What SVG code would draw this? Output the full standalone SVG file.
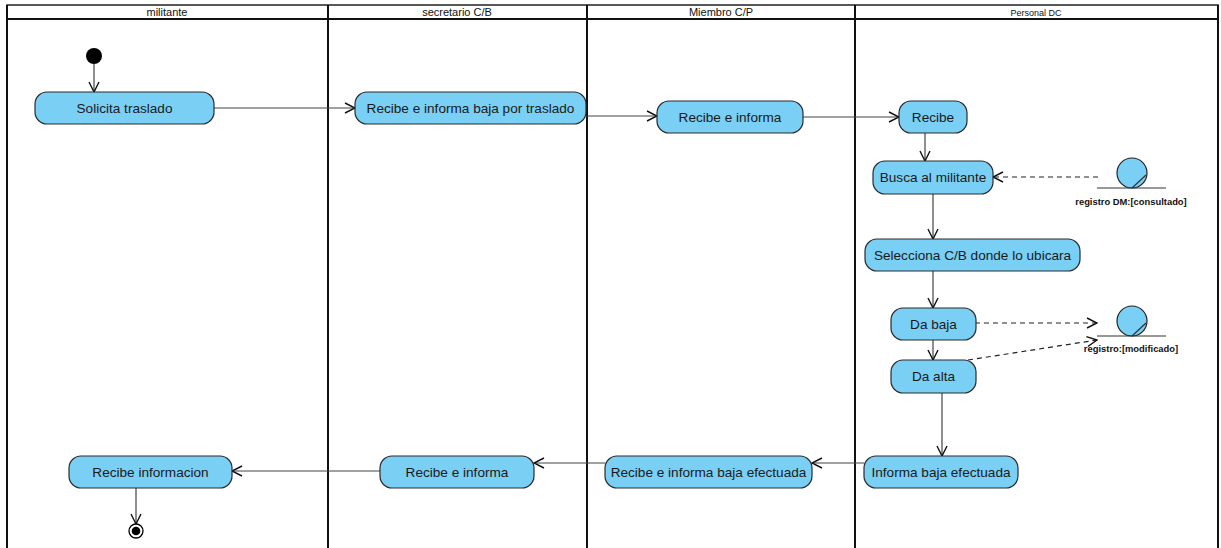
<svg xmlns="http://www.w3.org/2000/svg" width="1221" height="548" viewBox="0 0 1221 548">
  <style>
    .lane { fill: none; stroke: #111; stroke-width: 2; }
    .hdr { font-family: "Liberation Sans", Arial, sans-serif; font-size: 11px; fill: #111; text-anchor: middle; }
    .act rect { fill: #7acff5; stroke: #2a2a2a; stroke-width: 1.2; }
    .act text { font-family: "Liberation Sans", Arial, sans-serif; font-size: 13.6px; fill: #1a1a1a; text-anchor: middle; }
    .obj circle { fill: #7acff5; stroke: #222; stroke-width: 1.2; }
    .obj line { stroke: #333; stroke-width: 1.2; }
    .obj text { font-family: "Liberation Sans", Arial, sans-serif; font-size: 9.4px; font-weight: bold; fill: #111; text-anchor: middle; }
    .flow { fill: none; stroke: #444; stroke-width: 1.2; }
    .dep { fill: none; stroke: #222; stroke-width: 1.2; stroke-dasharray: 5 4; }
  </style>
  <defs>
    <marker id="open" viewBox="0 0 12 12" refX="11" refY="6" markerWidth="12" markerHeight="12" markerUnits="userSpaceOnUse" orient="auto">
      <path d="M1,1 L11,6 L1,11" fill="none" stroke="#111" stroke-width="1.4"/>
    </marker>
  </defs>

  <rect width="1221" height="548" fill="#fff"/>

  <!-- swimlanes -->
  <g id="lanes">
    <rect x="7" y="5" width="1211" height="14" fill="#fff" stroke="#222" stroke-width="1.5"/>
    <line x1="7" y1="19" x2="1218" y2="19" stroke="#111" stroke-width="2"/>
    <line x1="7" y1="5" x2="7" y2="548" class="lane"/>
    <line x1="328" y1="5" x2="328" y2="548" class="lane"/>
    <line x1="587" y1="5" x2="587" y2="548" class="lane"/>
    <line x1="855" y1="5" x2="855" y2="548" class="lane"/>
    <line x1="1218" y1="5" x2="1218" y2="548" class="lane"/>
    <text x="167" y="16" class="hdr">militante</text>
    <text x="457" y="16" class="hdr">secretario C/B</text>
    <text x="721" y="16" class="hdr">Miembro C/P</text>
    <text x="1036" y="15.5" class="hdr" style="font-size:9px">Personal DC</text>
  </g>

  <!-- connectors -->
  <g id="connectors">
    <line x1="94" y1="63" x2="94" y2="92" class="flow" marker-end="url(#open)"/>
    <line x1="214" y1="108" x2="355" y2="108" class="flow" marker-end="url(#open)"/>
    <line x1="586" y1="116" x2="657" y2="116" class="flow" marker-end="url(#open)"/>
    <line x1="803" y1="117" x2="899" y2="117" class="flow" marker-end="url(#open)"/>
    <line x1="925" y1="133" x2="925" y2="161" class="flow" marker-end="url(#open)"/>
    <line x1="933" y1="194" x2="933" y2="239" class="flow" marker-end="url(#open)"/>
    <line x1="933" y1="271" x2="933" y2="308" class="flow" marker-end="url(#open)"/>
    <line x1="933" y1="340" x2="933" y2="360" class="flow" marker-end="url(#open)"/>
    <line x1="942" y1="393" x2="942" y2="456" class="flow" marker-end="url(#open)"/>
    <line x1="864" y1="463" x2="812" y2="463" class="flow" marker-end="url(#open)"/>
    <line x1="605" y1="463" x2="534" y2="463" class="flow" marker-end="url(#open)"/>
    <line x1="380" y1="471" x2="232" y2="471" class="flow" marker-end="url(#open)"/>
    <line x1="136" y1="488" x2="136" y2="524" class="flow" marker-end="url(#open)"/>
    <line x1="1098" y1="177" x2="993" y2="177" class="dep" marker-end="url(#open)"/>
    <line x1="975" y1="323" x2="1097" y2="323" class="dep" marker-end="url(#open)"/>
    <line x1="968" y1="360" x2="1097" y2="340" class="dep" marker-end="url(#open)"/>
  </g>

  <!-- initial and final states -->
  <g id="inicio"><circle cx="94" cy="56" r="8" fill="#000"/></g>
  <g id="fin">
    <circle cx="136" cy="531" r="7" fill="#fff" stroke="#000" stroke-width="1.3"/>
    <circle cx="136" cy="531" r="4.3" fill="#000"/>
  </g>

  <!-- activities -->
  <g id="solicita-traslado" class="act"><rect x="35" y="92" width="179" height="32" rx="12"/><text x="124.5" y="113">Solicita traslado</text></g>
  <g id="recibe-baja-traslado" class="act"><rect x="355" y="92" width="231" height="32" rx="12"/><text x="470.5" y="113">Recibe e informa baja por traslado</text></g>
  <g id="recibe-informa-cp" class="act"><rect x="657" y="101" width="146" height="32" rx="12"/><text x="730" y="122">Recibe e informa</text></g>
  <g id="recibe" class="act"><rect x="899" y="101" width="68" height="32" rx="12"/><text x="933" y="122">Recibe</text></g>
  <g id="busca-militante" class="act"><rect x="873" y="161" width="120" height="33" rx="12"/><text x="933" y="182">Busca al militante</text></g>
  <g id="selecciona-cb" class="act"><rect x="865" y="239" width="215" height="32" rx="12"/><text x="972.5" y="260">Selecciona C/B donde lo ubicara</text></g>
  <g id="da-baja" class="act"><rect x="891" y="308" width="85" height="32" rx="12"/><text x="933.5" y="329">Da baja</text></g>
  <g id="da-alta" class="act"><rect x="891" y="360" width="85" height="33" rx="12"/><text x="933.5" y="381">Da alta</text></g>
  <g id="informa-baja" class="act"><rect x="864" y="456" width="154" height="32" rx="12"/><text x="941" y="477">Informa baja efectuada</text></g>
  <g id="recibe-baja-efectuada" class="act"><rect x="605" y="456" width="207" height="32" rx="12"/><text x="708.5" y="477">Recibe e informa baja efectuada</text></g>
  <g id="recibe-informa-cb" class="act"><rect x="380" y="456" width="154" height="32" rx="12"/><text x="457" y="477">Recibe e informa</text></g>
  <g id="recibe-informacion" class="act"><rect x="69" y="456" width="163" height="32" rx="12"/><text x="150.5" y="477">Recibe informacion</text></g>

  <!-- data objects -->
  <g id="registro-dm" class="obj">
    <circle cx="1132" cy="173" r="15"/>
    <line x1="1132" y1="188" x2="1146" y2="175"/>
    <line x1="1097" y1="188" x2="1166" y2="188"/>
    <text x="1131" y="205">registro DM:[consultado]</text>
  </g>
  <g id="registro" class="obj">
    <circle cx="1132" cy="321" r="15"/>
    <line x1="1132" y1="336" x2="1146" y2="323"/>
    <line x1="1097" y1="336" x2="1166" y2="336"/>
    <text x="1131" y="352">registro:[modificado]</text>
  </g>
</svg>
